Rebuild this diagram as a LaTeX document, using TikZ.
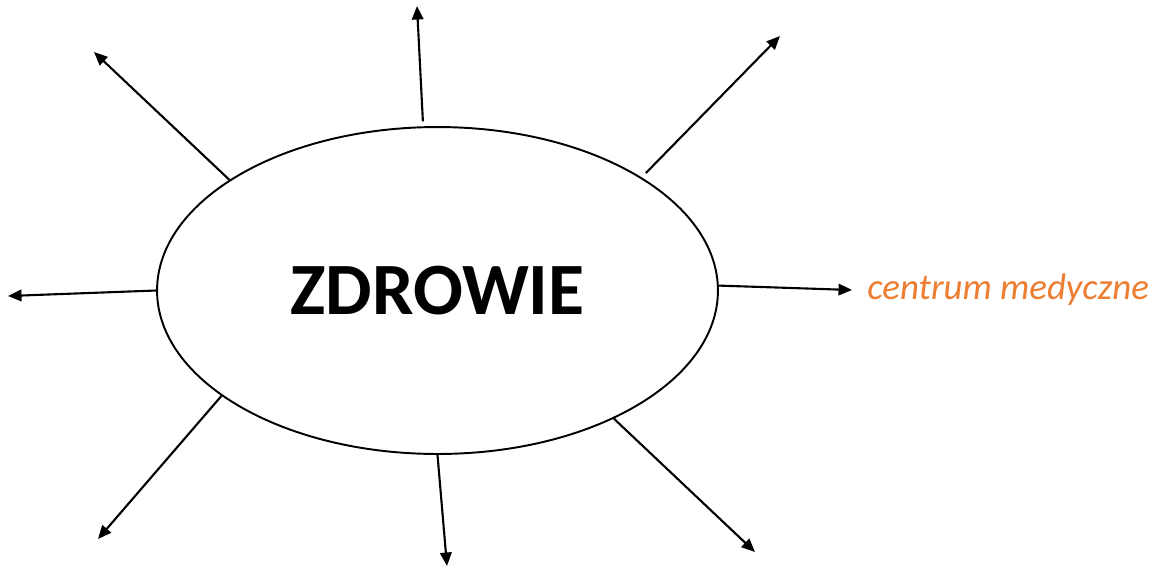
\documentclass[tikz,border=0pt]{standalone}
\usepackage{fontspec}
\setmainfont{Carlito}
\usetikzlibrary{arrows.meta,shapes.geometric}
\definecolor{officeorange}{HTML}{ED7D31}
\tikzset{
  hub/.style={ellipse, draw=black, line width=1.1pt, inner sep=0pt,
    minimum width=11.22cm, minimum height=6.54cm},
  spoke/.style={line width=1.2pt, -{Triangle[length=0.27cm, width=0.23cm]}},
  label text/.style={text=officeorange, font=\fontsize{21}{25}\selectfont\itshape}
}
\begin{document}
\begin{tikzpicture}[x=0.02cm, y=-0.02cm]
  \useasboundingbox (0,0) rectangle (1173,566);

  \node[hub, font=\fontsize{42}{50}\selectfont\bfseries] (zdrowie) at (437.5,290.5) {ZDROWIE};

  % free ends of the spokes
  \coordinate (top) at (417,6);
  \coordinate (topleft) at (94,52);
  \coordinate (topright) at (780,36);
  \coordinate (left) at (8,296);
  \coordinate (botleft) at (98,539);
  \coordinate (bottom) at (447,566);
  \coordinate (botright) at (755,552);

  \node[label text, anchor=west, inner xsep=0.3cm, inner ysep=0pt] (centrum) at (852,290) {centrum medyczne};

  \draw[spoke, shorten <=0.1cm] (zdrowie.95.3) -- (top);
  \draw[spoke] (zdrowie.152.5) -- (topleft);
  \draw[spoke, shorten <=0.12cm] (zdrowie.29.5) -- (topright);
  \draw[spoke] (zdrowie.180) -- (left);
  \draw[spoke] (zdrowie.1) -- (centrum.west);
  \draw[spoke] (zdrowie.206.5) -- (botleft);
  \draw[spoke] (zdrowie.270.9) -- (bottom);
  \draw[spoke] (zdrowie.324.2) -- (botright);
\end{tikzpicture}
\end{document}
